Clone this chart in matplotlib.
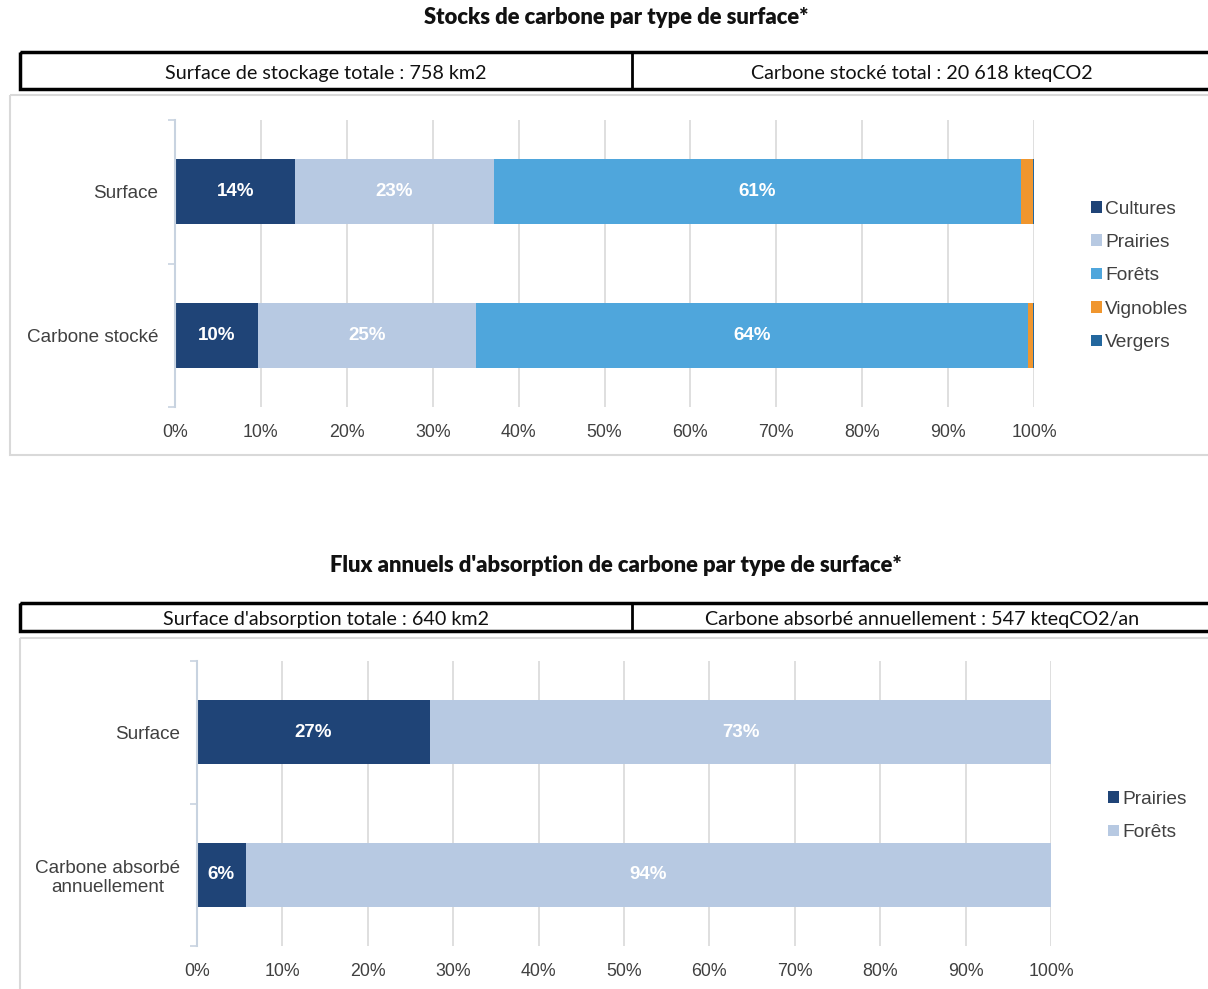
import matplotlib
matplotlib.use("Agg")
import matplotlib.pyplot as plt
from matplotlib.patches import Rectangle
import numpy as np

W, H = 1208, 989
plt.rcParams['font.family'] = ['Liberation Sans', 'DejaVu Sans']

# ---------------- data ----------------
top_title = "Stocks de carbone par type de surface*"
top_box = ["Surface de stockage totale : 758 km2", "Carbone stocké total : 20 618 kteqCO2"]
top_categories = ["Surface", "Carbone stocké"]
top_series = ["Cultures", "Prairies", "Forêts", "Vignobles", "Vergers"]
top_cultures = [14.0, 9.7]
top_prairies = [23.1, 25.3]
top_forets = [61.4, 64.3]
top_vignobles = [1.4, 0.6]
top_vergers = [0.1, 0.1]
top_colors = ["#1f4477", "#b7c9e2", "#4fa6dc", "#f0962e", "#23679e"]

bot_title = "Flux annuels d'absorption de carbone par type de surface*"
bot_box = ["Surface d'absorption totale : 640 km2", "Carbone absorbé annuellement : 547 kteqCO2/an"]
bot_categories = ["Surface", "Carbone absorbé\nannuellement"]
bot_series = ["Prairies", "Forêts"]
bot_prairies = [27.3, 5.7]
bot_forets = [72.7, 94.3]
bot_colors = ["#1f4477", "#b7c9e2"]

xticks = np.arange(0, 101, 10)
xticklabels = [f"{v}%" for v in xticks]

# ---------------- figure ----------------
fig = plt.figure(figsize=(W / 100, H / 100), dpi=100)
bg = fig.add_axes([0, 0, 1, 1], zorder=0)
bg.set_xlim(0, W)
bg.set_ylim(H, 0)
bg.axis('off')


def px(x0, y0, x1, y1):
    return [x0 / W, 1 - y1 / H, (x1 - x0) / W, (y1 - y0) / H]


def header(title, ty, box, by0, by1, fy0, fy1, fx0):
    bg.text(W / 2 + 12, ty, title, ha='center', va='center', fontsize=15.8,
            fontweight='heavy', family=['Lato', 'DejaVu Sans'], color='#111111')
    bg.add_patch(Rectangle((20, by0), 1200, by1 - by0, fill=False, ec='black', lw=2.5))
    bg.plot([632, 632], [by0, by1], color='black', lw=2)
    bg.text(326, (by0 + by1) / 2 + 2.5, box[0], ha='center', va='center', fontsize=14.2,
            family=['Lato', 'DejaVu Sans'], color='#111111')
    bg.text(922, (by0 + by1) / 2 + 2.5, box[1], ha='center', va='center', fontsize=14.2,
            family=['Lato', 'DejaVu Sans'], color='#111111')
    bg.add_patch(Rectangle((fx0, fy0), 1220 - fx0, fy1 - fy0, fill=False, ec='#d9d9d9', lw=1.5))


def chart(rect, categories, series_vals, names, colors, legend_anchor, multiline_center=False):
    ax = fig.add_axes(px(*rect), zorder=2)
    ax.patch.set_alpha(0)
    ypos = np.array([0.5, 1.5])
    left = np.zeros(len(categories))
    for vals, name, col in zip(series_vals, names, colors):
        vals = np.array(vals)
        bars = ax.barh(ypos, vals, left=left, height=0.45, color=col, label=name, zorder=3)
        if vals.max() >= 3:
            labels = [f"{v:.0f}%" if v >= 3 else "" for v in vals]
            ax.bar_label(bars, labels=labels, label_type='center', color='white',
                         fontsize=13.5, fontweight='bold')
        left = left + vals
    ax.set_xlim(0, 100)
    ax.set_ylim(2, 0)
    ax.set_xticks(xticks)
    ax.set_xticklabels(xticklabels, fontsize=12.8, color='#404040')
    ax.tick_params(axis='x', length=0, pad=12)
    ax.set_yticks(ypos)
    ax.set_yticklabels(categories, fontsize=13.6, color='#404040')
    ax.set_yticks([0, 1, 2], minor=True)
    ax.tick_params(axis='y', which='major', length=0, pad=12)
    ax.tick_params(axis='y', which='minor', length=5, color='#c8d3e0', width=1.2)
    if multiline_center:
        for lab in ax.get_yticklabels():
            lab.set_multialignment('center')
    ax.grid(axis='x', color='#d9d9d9', lw=1.2, zorder=0)
    for s in ['top', 'right', 'bottom']:
        ax.spines[s].set_visible(False)
    ax.spines['left'].set_color('#c8d3e0')
    ax.spines['left'].set_linewidth(1.5)
    ax.spines['left'].set_zorder(4)
    lx, ly = legend_anchor
    fig.legend(loc='center left', bbox_to_anchor=(lx / W, 1 - ly / H),
               handles=[c.patches[0] for c in ax.containers if hasattr(c, 'patches')],
               labels=names, frameon=False, fontsize=13.8, labelcolor='#404040',
               handlelength=0.55, handleheight=0.55, handletextpad=0.2,
               labelspacing=0.86, borderpad=0, borderaxespad=0)
    return ax


header(top_title, 18, top_box, 52, 89, 95, 455, 10)
header(bot_title, 566, bot_box, 603, 631, 638, 1000, 20)

chart((175, 120, 1034, 407), top_categories,
      [top_cultures, top_prairies, top_forets, top_vignobles, top_vergers],
      top_series, top_colors, (1091, 276))

chart((197, 661, 1051, 946), bot_categories,
      [bot_prairies, bot_forets], bot_series, bot_colors, (1108, 816),
      multiline_center=True)

fig.savefig("out.png", dpi=100)
